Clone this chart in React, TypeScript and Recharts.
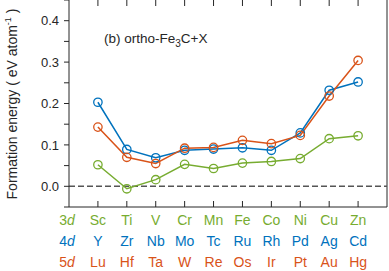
import React from 'react'
import { ComposedChart, Line, XAxis, YAxis, ReferenceLine } from 'recharts'

const row3d = ['Sc', 'Ti', 'V', 'Cr', 'Mn', 'Fe', 'Co', 'Ni', 'Cu', 'Zn']
const row4d = ['Y', 'Zr', 'Nb', 'Mo', 'Tc', 'Ru', 'Rh', 'Pd', 'Ag', 'Cd']
const row5d = ['Lu', 'Hf', 'Ta', 'W', 'Re', 'Os', 'Ir', 'Pt', 'Au', 'Hg']

const energy3d = [0.052, -0.006, 0.016, 0.053, 0.043, 0.056, 0.06, 0.067, 0.115, 0.122]
const energy4d = [0.203, 0.089, 0.069, 0.087, 0.09, 0.093, 0.087, 0.129, 0.232, 0.252]
const energy5d = [0.143, 0.07, 0.055, 0.092, 0.094, 0.111, 0.103, 0.123, 0.218, 0.304]

const yTicks = [-0.05, 0, 0.05, 0.1, 0.15, 0.2, 0.25, 0.3, 0.35, 0.4, 0.45]

const GREEN = '#77AC30'
const BLUE = '#0072BD'
const ORANGE = '#D95319'
const AXIS = '#262626'
const FONT = '"Liberation Sans", Arial, Helvetica, sans-serif'

const data = row3d.map((el, i) => ({
  pos: i + 1,
  d3: energy3d[i],
  d4: energy4d[i],
  d5: energy5d[i],
}))

const xTicks = data.map((d) => d.pos)

const ElementTick = (props: any) => {
  const { x, y, payload } = props
  const i = payload.value - 1
  return (
    <g>
      <line x1={x} x2={x} y1={y - 6} y2={y} stroke={AXIS} strokeWidth={1} />
      <line x1={x} x2={x} y1={0} y2={6} stroke={AXIS} strokeWidth={1} />
      <text x={x} y={y + 18} textAnchor="middle" fontSize={14} fontFamily={FONT} fill={GREEN}>{row3d[i]}</text>
      <text x={x} y={y + 39} textAnchor="middle" fontSize={14} fontFamily={FONT} fill={BLUE}>{row4d[i]}</text>
      <text x={x} y={y + 60} textAnchor="middle" fontSize={14} fontFamily={FONT} fill={ORANGE}>{row5d[i]}</text>
    </g>
  )
}

const fmtY = (v: number) => {
  const t = Math.round(v * 100)
  return t % 10 === 0 ? (t / 100).toFixed(1) : ''
}

const dot = (c: string) => ({ r: 4.2, fill: 'none', stroke: c, strokeWidth: 1.3 })

export default function App() {
  return (
    <div style={{ position: 'absolute', left: 0, top: 0, width: 389, height: 271, background: '#fff' }}>
      <ComposedChart width={389} height={271} data={data} margin={{ top: 0, right: 2, bottom: 0, left: 0 }}>
        <XAxis
          dataKey="pos"
          type="number"
          domain={[0, 11]}
          ticks={xTicks}
          interval={0}
          height={64}
          tickSize={0}
          tickMargin={0}
          tickLine={false}
          tick={<ElementTick />}
          axisLine={{ stroke: AXIS }}
        />
        <YAxis
          domain={[-0.05, 0.45]}
          ticks={yTicks}
          interval={0}
          width={69}
          tickSize={5}
          tickMargin={5}
          tickFormatter={fmtY}
          tick={{ fontSize: 13, fill: AXIS, fontFamily: FONT }}
          tickLine={{ stroke: AXIS }}
          axisLine={{ stroke: AXIS }}
        />
        <ReferenceLine x={11} stroke={AXIS} strokeWidth={1} />
        <ReferenceLine y={0} stroke="#555" strokeWidth={1.5} strokeDasharray="6 3" />
        <Line dataKey="d3" stroke={GREEN} strokeWidth={1.5} dot={dot(GREEN)} isAnimationActive={false} />
        <Line dataKey="d4" stroke={BLUE} strokeWidth={1.5} dot={dot(BLUE)} isAnimationActive={false} />
        <Line dataKey="d5" stroke={ORANGE} strokeWidth={1.5} dot={dot(ORANGE)} isAnimationActive={false} />
      </ComposedChart>
      <svg width={389} height={271} style={{ position: 'absolute', left: 0, top: 0, pointerEvents: 'none' }}>
        <text x={104} y={43} fontSize={13.5} fontFamily={FONT} fill={AXIS}>
          (b) ortho-Fe<tspan fontSize={10} dy={4}>3</tspan><tspan dy={-4}>C+X</tspan>
        </text>
        <text
          transform="translate(17,104) rotate(-90)"
          textAnchor="middle"
          fontSize={14}
          fontFamily={FONT}
          fill={AXIS}
        >
          Formation energy ( eV atom<tspan fontSize={9} dy={-6}>-1</tspan><tspan dy={6}> )</tspan>
        </text>
        <text x={67} y={225} textAnchor="middle" fontSize={14} fontFamily={FONT} fill={GREEN}>3<tspan fontStyle="italic">d</tspan></text>
        <text x={67} y={246} textAnchor="middle" fontSize={14} fontFamily={FONT} fill={BLUE}>4<tspan fontStyle="italic">d</tspan></text>
        <text x={67} y={267} textAnchor="middle" fontSize={14} fontFamily={FONT} fill={ORANGE}>5<tspan fontStyle="italic">d</tspan></text>
      </svg>
    </div>
  )
}
